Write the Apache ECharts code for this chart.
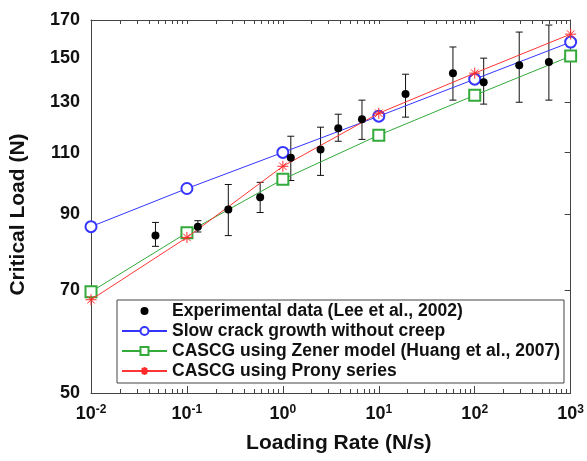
<!DOCTYPE html>
<html>
<head>
<meta charset="utf-8">
<script src="https://cdn.jsdelivr.net/npm/echarts@6/dist/echarts.min.js"></script>
<style>
  html, body { margin: 0; padding: 0; background: #fff; }
  #chart { width: 587px; height: 461px; }
</style>
</head>
<body>
<div id="chart"></div>
<script>
// model curves, evaluated at each decade of loading rate
const modelRate = [0.01, 0.1, 1, 10, 100, 1000];
const slowCrack = [86.3, 97.8, 110.1, 124.0, 140.0, 158.1];
const zener = [69.7, 84.6, 100.8, 116.5, 132.8, 151.0];
const prony = [67.9, 83.3, 105.2, 125.2, 142.8, 162.3];

// experimental data (Lee et al., 2002) with error bars
const expRate = [0.047, 0.13, 0.27, 0.58, 1.21, 2.47, 3.78, 6.68, 19.0, 59.3, 124, 291, 593];
const expLoad = [83.8, 86.3, 91.3, 95.0, 108.2, 111.2, 119.2, 122.8, 133.3, 142.8, 138.6, 146.6, 148.1];
const expLow = [80.9, 84.8, 83.8, 90.4, 100.4, 102.1, 114.2, 114.9, 123.6, 130.7, 129.0, 129.8, 130.7];
const expHigh = [87.5, 88.0, 99.1, 99.8, 116.1, 119.6, 124.8, 130.7, 142.3, 155.6, 150.0, 163.4, 167.2];

// axis ticks
const decadeTicks = [0.01, 0.1, 1, 10, 100, 1000];
const loadTicks = [50, 70, 90, 110, 130, 150, 170];
const minorRateTicks = [];
decadeTicks.slice(0, -1).forEach(function (d) {
  for (let k = 2; k <= 9; k++) minorRateTicks.push(+(d * k).toPrecision(3));
});

const font = "'Liberation Sans', Arial, sans-serif";
const frame = '#444';
const ink = '#111';

const names = [
  'Experimental data (Lee et al., 2002)',
  'Slow crack growth without creep',
  'CASCG using Zener model (Huang et al., 2007)',
  'CASCG using Prony series'
];

function pairs(xs, ys) {
  return xs.map(function (x, i) { return [x, ys[i]]; });
}

const star = 'path://M0,5L10,5M5,0L5,10M1.6,1.6L8.4,8.4M8.4,1.6L1.6,8.4';

const xBase = { type: 'log', logBase: 10, min: 0.01, max: 1000, splitLine: { show: false } };
const yBase = { type: 'log', logBase: 10, min: 50, max: 170, splitLine: { show: false } };

const option = {
  animation: false,
  backgroundColor: '#fff',
  grid: { left: 89, right: 13, top: 20, bottom: 68, containLabel: false },
  legend: {
    orient: 'vertical',
    left: 117,
    top: 300,
    padding: [2, 4, 3, 4],
    itemGap: 2,
    itemWidth: 45,
    itemHeight: 10,
    borderColor: frame,
    borderWidth: 1,
    backgroundColor: '#fff',
    textStyle: { fontFamily: font, fontWeight: 'bold', fontSize: 17.5, lineHeight: 18, color: ink },
    data: names
  },
  xAxis: [
    Object.assign({}, xBase, {
      position: 'bottom',
      name: 'Loading Rate (N/s)',
      nameLocation: 'middle',
      nameGap: 40,
      nameTextStyle: { fontFamily: font, fontWeight: 'bold', fontSize: 21, color: ink, padding: [0, 0, 0, 16] },
      axisLine: { lineStyle: { color: frame, width: 1 } },
      axisTick: { show: true, inside: true, length: 7, lineStyle: { color: frame }, customValues: decadeTicks },
      axisLabel: {
        margin: 11,
        customValues: decadeTicks,
        formatter: function (v) {
          return '{b|10}{s|' + Math.round(Math.log10(v)) + '}';
        },
        rich: {
          b: { fontFamily: font, fontWeight: 'bold', fontSize: 18, color: ink },
          s: { fontFamily: font, fontWeight: 'bold', fontSize: 12, color: ink, verticalAlign: 'bottom', padding: [0, 0, 9, 0] }
        }
      }
    }),
    Object.assign({}, xBase, {
      position: 'bottom',
      axisLine: { show: false },
      axisTick: { show: true, inside: true, length: 4, lineStyle: { color: frame }, customValues: minorRateTicks },
      axisLabel: { show: false }
    }),
    Object.assign({}, xBase, {
      position: 'top',
      axisLine: { lineStyle: { color: frame, width: 1 } },
      axisTick: { show: true, inside: true, length: 4, lineStyle: { color: frame }, customValues: minorRateTicks.concat(decadeTicks) },
      axisLabel: { show: false }
    })
  ],
  yAxis: [
    Object.assign({}, yBase, {
      position: 'left',
      name: 'Critical Load (N)',
      nameLocation: 'middle',
      nameGap: 62,
      nameTextStyle: { fontFamily: font, fontWeight: 'bold', fontSize: 21, color: ink, padding: [0, 16, 0, 0] },
      axisLine: { lineStyle: { color: frame, width: 1 } },
      axisTick: { show: false },
      axisLabel: {
        margin: 11,
        customValues: loadTicks,
        fontFamily: font, fontWeight: 'bold', fontSize: 18, color: ink
      }
    }),
    Object.assign({}, yBase, {
      position: 'right',
      axisLine: { lineStyle: { color: frame, width: 1 } },
      axisTick: { show: true, inside: true, length: 6, lineStyle: { color: frame }, customValues: loadTicks },
      axisLabel: { show: false }
    })
  ],
  series: [
    {
      name: 'error bars',
      type: 'custom',
      encode: { x: 0, y: [2, 3] },
      data: expRate.map(function (x, i) { return [x, expLoad[i], expLow[i], expHigh[i]]; }),
      renderItem: function (params, api) {
        const x = api.value(0);
        const top = api.coord([x, api.value(3)]);
        const bot = api.coord([x, api.value(2)]);
        const w = 3.5;
        const st = { stroke: ink, lineWidth: 1 };
        return {
          type: 'group',
          children: [
            { type: 'line', shape: { x1: top[0], y1: top[1], x2: bot[0], y2: bot[1] }, style: st },
            { type: 'line', shape: { x1: top[0] - w, y1: top[1], x2: top[0] + w, y2: top[1] }, style: st },
            { type: 'line', shape: { x1: bot[0] - w, y1: bot[1], x2: bot[0] + w, y2: bot[1] }, style: st }
          ]
        };
      },
      z: 2
    },
    {
      // markers only: the connecting line is hidden
      name: names[0],
      type: 'line',
      data: pairs(expRate, expLoad),
      symbol: 'circle',
      symbolSize: 8,
      itemStyle: { color: '#000' },
      lineStyle: { opacity: 0 },
      z: 5
    },
    {
      name: names[1],
      type: 'line',
      data: pairs(modelRate, slowCrack),
      symbol: 'emptyCircle',
      symbolSize: 11,
      itemStyle: { color: '#3535ff', borderWidth: 1 },
      lineStyle: { color: '#3535ff', width: 1 },
      z: 3
    },
    {
      name: names[2],
      type: 'line',
      data: pairs(modelRate, zener),
      symbol: 'emptyRect',
      symbolSize: 11,
      itemStyle: { color: '#33aa3a', borderWidth: 1 },
      lineStyle: { color: '#33aa3a', width: 1 },
      z: 3
    },
    {
      name: names[3],
      type: 'line',
      data: pairs(modelRate, prony),
      symbol: star,
      symbolSize: 11,
      itemStyle: { color: '#ff2a2a', borderColor: '#ff2a2a', borderWidth: 1 },
      lineStyle: { color: '#ff3535', width: 1 },
      z: 4
    }
  ]
};

const chart = echarts.init(document.getElementById('chart'));
chart.setOption(option);
</script>
</body>
</html>
